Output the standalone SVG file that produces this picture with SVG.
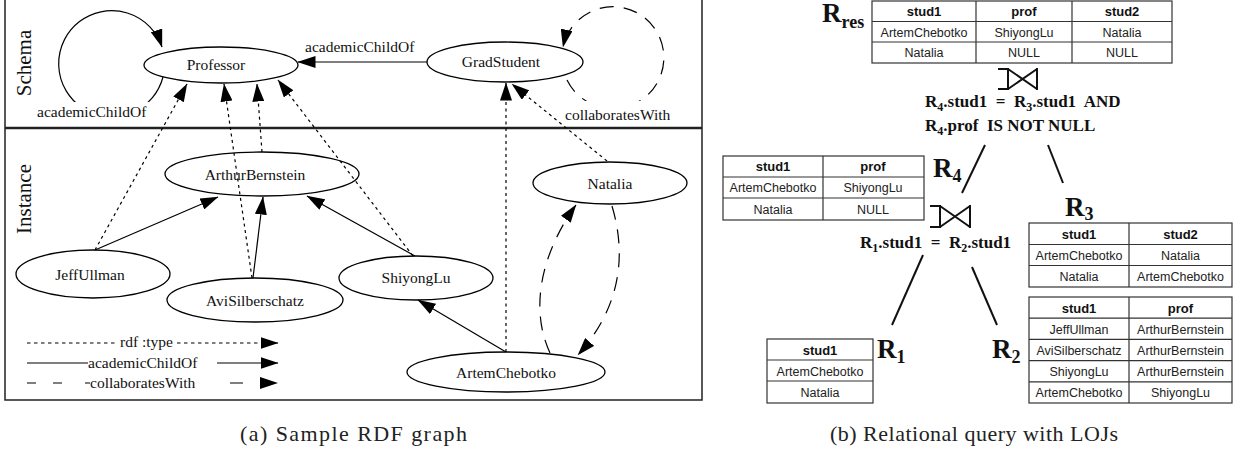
<svg xmlns="http://www.w3.org/2000/svg" width="1250" height="452" viewBox="0 0 1250 452">
  <defs>
    <marker id="ah" viewBox="0 0 18 12" refX="17.5" refY="6" markerWidth="18" markerHeight="12" markerUnits="userSpaceOnUse" orient="auto">
      <path d="M0,0 L18,6 L0,12 z" fill="#000"/>
    </marker>
    <style>
      .frame { fill: none; stroke: #222; stroke-width: 1.5; }
      .node ellipse { fill: none; stroke: #000; stroke-width: 1.3; }
      .nt { font-family: "Liberation Serif", "Times New Roman", serif; font-size: 15.5px; text-anchor: middle; fill: #111; }
      .el { font-family: "Liberation Serif", "Times New Roman", serif; font-size: 15.5px; fill: #111; }
      .sec { font-family: "Liberation Serif", "Times New Roman", serif; font-size: 21px; text-anchor: middle; fill: #111; }
      .type { fill: none; stroke: #000; stroke-width: 1.2; stroke-dasharray: 3 3.5; marker-end: url(#ah); }
      .child { fill: none; stroke: #000; stroke-width: 1.2; marker-end: url(#ah); }
      .collab { fill: none; stroke: #000; stroke-width: 1.2; stroke-dasharray: 14 10; marker-end: url(#ah); }
      .lg { fill: none; stroke: #000; stroke-width: 1.2; }
      .tb { fill: none; stroke: #333; stroke-width: 1.2; }
      .th { font-family: "Liberation Sans", Arial, sans-serif; font-weight: bold; font-size: 13px; text-anchor: middle; fill: #111; }
      .td { font-family: "Liberation Sans", Arial, sans-serif; font-size: 12.5px; text-anchor: middle; fill: #222; }
      .rl { font-family: "Liberation Serif", "Times New Roman", serif; font-weight: bold; font-size: 27px; fill: #111; }
      .rs { font-size: 18px; }
      .cond { font-family: "Liberation Serif", "Times New Roman", serif; font-weight: bold; font-size: 17px; fill: #111; white-space: pre; }
      .sub { font-size: 12px; }
      .join { fill: none; stroke: #111; stroke-width: 2; }
      .tree { fill: none; stroke: #111; stroke-width: 2; }
      .cap { font-family: "Liberation Serif", "Times New Roman", serif; font-size: 22px; fill: #222; }
    </style>
  </defs>

  <!-- (a) RDF graph panel frame -->
  <g id="panel-a">
    <path class="frame" d="M5,0 V400 H702 V0"/>
    <line x1="5" y1="128" x2="702" y2="128" stroke="#222" stroke-width="2.6"/>
    <text class="sec" transform="translate(31,63) rotate(-90)">Schema</text>
    <text class="sec" transform="translate(31,199) rotate(-90)">Instance</text>
  </g>

  <!-- connectors -->
  <g id="connectors">
    <!-- self loop on Professor -->
    <path class="child" d="M163,77 A53 53 0 1 1 162,47"/>
    <rect x="35" y="102" width="116" height="21" fill="#fff"/>
    <text class="el" x="37" y="117">academicChildOf</text>

    <!-- GradStudent -> Professor -->
    <path class="child" d="M427,62 L298,62"/>
    <text class="el" x="305" y="52">academicChildOf</text>

    <!-- self loop on GradStudent -->
    <path class="collab" d="M567,80 A51 51 0 1 0 563,47"/>
    <rect x="562" y="101" width="116" height="23" fill="#fff"/>
    <text class="el" x="565" y="120">collaboratesWith</text>

    <!-- rdf:type -->
    <path class="type" d="M95,250 L187,84"/>
    <path class="type" d="M252,278 L224,84"/>
    <path class="type" d="M262,152 L257,84"/>
    <path class="type" d="M413,256 L278,80"/>
    <path class="type" d="M506,352 L506,83"/>
    <path class="type" d="M607,161 L512,84"/>

    <!-- academicChildOf between instances -->
    <path class="child" d="M95,250 L218,197"/>
    <path class="child" d="M253,278 L263,197"/>
    <path class="child" d="M415,256 L307,196"/>
    <path class="child" d="M506,352 L418,300"/>

    <!-- collaboratesWith between instances -->
    <path class="collab" d="M550,353 C530,310 540,255 576,205"/>
    <path class="collab" d="M612,206 C628,260 618,310 578,355"/>
  </g>

  <!-- schema nodes -->
  <g id="professor" class="node">
    <ellipse cx="221" cy="65" rx="77" ry="18"/>
    <text class="nt" x="216" y="70">Professor</text>
  </g>
  <g id="gradstudent" class="node">
    <ellipse cx="505" cy="62" rx="78" ry="20"/>
    <text class="nt" x="501" y="67">GradStudent</text>
  </g>

  <!-- instance nodes -->
  <g id="arthurbernstein" class="node">
    <ellipse cx="262" cy="174" rx="97" ry="22"/>
    <text class="nt" x="255" y="180">ArthurBernstein</text>
  </g>
  <g id="jeffullman" class="node">
    <ellipse cx="93" cy="274" rx="77" ry="24"/>
    <text class="nt" x="90" y="280">JeffUllman</text>
  </g>
  <g id="avisilberschatz" class="node">
    <ellipse cx="255" cy="300" rx="88" ry="22"/>
    <text class="nt" x="255" y="306">AviSilberschatz</text>
  </g>
  <g id="shiyonglu" class="node">
    <ellipse cx="416" cy="278" rx="77" ry="22"/>
    <text class="nt" x="416" y="283">ShiyongLu</text>
  </g>
  <g id="natalia" class="node">
    <ellipse cx="610" cy="183" rx="77" ry="21"/>
    <text class="nt" x="610" y="189">Natalia</text>
  </g>
  <g id="artemchebotko" class="node">
    <ellipse cx="506" cy="372" rx="99" ry="20"/>
    <text class="nt" x="506" y="378">ArtemChebotko</text>
  </g>

  <!-- legend -->
  <g id="legend">
    <line class="lg" x1="27" y1="343" x2="118" y2="343" stroke-dasharray="3.5 3.5"/>
    <text class="el" x="120" y="347">rdf :type</text>
    <line class="lg" x1="177" y1="343" x2="278" y2="343" stroke-dasharray="3.5 3.5" marker-end="url(#ah)"/>

    <line class="lg" x1="27" y1="363" x2="88" y2="363"/>
    <text class="el" x="88" y="368">academicChildOf</text>
    <line class="lg" x1="217" y1="363" x2="278" y2="363" marker-end="url(#ah)"/>

    <path class="lg" d="M27,383 H36 M53,383 H62 M85,383 H90 M230,383 H243"/>
    <text class="el" x="90" y="388">collaboratesWith</text>
    <path d="M260,377 L278,383 L260,389 z" fill="#000"/>
  </g>

  <!-- (b) relational query tree -->
  <g id="rres">
    <text class="rl" x="822" y="22">R<tspan class="rs" dy="6">res</tspan></text>
    <rect class="tb" x="872" y="1" width="300" height="62"/>
    <path class="tb" d="M872,21.5 H1172 M872,42 H1172 M976,1 V63 M1072,1 V63"/>
    <text class="th" x="924" y="16">stud1</text>
    <text class="th" x="1024" y="16">prof</text>
    <text class="th" x="1122" y="16">stud2</text>
    <text class="td" x="924" y="36.5">ArtemChebotko</text>
    <text class="td" x="1024" y="36.5">ShiyongLu</text>
    <text class="td" x="1122" y="36.5">Natalia</text>
    <text class="td" x="924" y="57">Natalia</text>
    <text class="td" x="1024" y="57">NULL</text>
    <text class="td" x="1122" y="57">NULL</text>
  </g>

  <g id="join-top">
    <path class="join" d="M998,69 H1008 V89 H998 M1008,69 L1037,89 M1008,89 L1037,69 M1037,68 V90"/>
    <text class="cond" x="925" y="107">R<tspan class="sub" dy="4">4</tspan><tspan dy="-4">.stud1  =  R</tspan><tspan class="sub" dy="4">3</tspan><tspan dy="-4">.stud1  AND</tspan></text>
    <text class="cond" x="925" y="131">R<tspan class="sub" dy="4">4</tspan><tspan dy="-4">.prof  IS NOT NULL</tspan></text>
  </g>

  <g id="tree-edges">
    <line class="tree" x1="985" y1="145" x2="962" y2="193"/>
    <line class="tree" x1="1048" y1="145" x2="1063" y2="183"/>
    <line class="tree" x1="923" y1="255" x2="892" y2="325"/>
    <line class="tree" x1="972" y1="267" x2="997" y2="325"/>
  </g>

  <g id="r4">
    <text class="rl" x="933" y="177">R<tspan class="rs" dy="5">4</tspan></text>
    <rect class="tb" x="723" y="156" width="201" height="64"/>
    <path class="tb" d="M723,177 H924 M723,198 H924 M823,156 V220"/>
    <text class="th" x="773" y="171">stud1</text>
    <text class="th" x="873" y="171">prof</text>
    <text class="td" x="773" y="192">ArtemChebotko</text>
    <text class="td" x="873" y="192">ShiyongLu</text>
    <text class="td" x="773" y="213.5">Natalia</text>
    <text class="td" x="873" y="213.5">NULL</text>
  </g>

  <g id="join-bottom">
    <path class="join" d="M930,206 H940 V227 H930 M940,206 L970,227 M940,227 L970,206 M970,205 V228"/>
    <text class="cond" x="860" y="248">R<tspan class="sub" dy="4">1</tspan><tspan dy="-4">.stud1  =  R</tspan><tspan class="sub" dy="4">2</tspan><tspan dy="-4">.stud1</tspan></text>
  </g>

  <g id="r3">
    <text class="rl" x="1065" y="216">R<tspan class="rs" dy="4">3</tspan></text>
    <rect class="tb" x="1029" y="223" width="203" height="64"/>
    <path class="tb" d="M1029,244.5 H1232 M1029,265.5 H1232 M1129,223 V287"/>
    <text class="th" x="1079" y="238.5">stud1</text>
    <text class="th" x="1180.5" y="238.5">stud2</text>
    <text class="td" x="1079" y="259.5">ArtemChebotko</text>
    <text class="td" x="1180.5" y="259.5">Natalia</text>
    <text class="td" x="1079" y="281">Natalia</text>
    <text class="td" x="1180.5" y="281">ArtemChebotko</text>
  </g>

  <g id="r1">
    <text class="rl" x="877" y="358">R<tspan class="rs" dy="5">1</tspan></text>
    <rect class="tb" x="767" y="339" width="106" height="64"/>
    <path class="tb" d="M767,360 H873 M767,381 H873"/>
    <text class="th" x="820" y="354.5">stud1</text>
    <text class="td" x="820" y="375.5">ArtemChebotko</text>
    <text class="td" x="820" y="396.5">Natalia</text>
  </g>

  <g id="r2">
    <text class="rl" x="992" y="358">R<tspan class="rs" dy="5">2</tspan></text>
    <rect class="tb" x="1029" y="297" width="203" height="106"/>
    <path class="tb" d="M1029,318.2 H1232 M1029,339.4 H1232 M1029,360.6 H1232 M1029,381.8 H1232 M1129,297 V403"/>
    <text class="th" x="1079" y="312.5">stud1</text>
    <text class="th" x="1180.5" y="312.5">prof</text>
    <text class="td" x="1079" y="333.5">JeffUllman</text>
    <text class="td" x="1180.5" y="333.5">ArthurBernstein</text>
    <text class="td" x="1079" y="354.7">AviSilberschatz</text>
    <text class="td" x="1180.5" y="354.7">ArthurBernstein</text>
    <text class="td" x="1079" y="375.9">ShiyongLu</text>
    <text class="td" x="1180.5" y="375.9">ArthurBernstein</text>
    <text class="td" x="1079" y="397.1">ArtemChebotko</text>
    <text class="td" x="1180.5" y="397.1">ShiyongLu</text>
  </g>

  <!-- captions -->
  <text class="cap" x="240" y="441" textLength="227" lengthAdjust="spacing">(a) Sample RDF graph</text>
  <text class="cap" x="830" y="441" textLength="288" lengthAdjust="spacing">(b) Relational query with LOJs</text>
</svg>
